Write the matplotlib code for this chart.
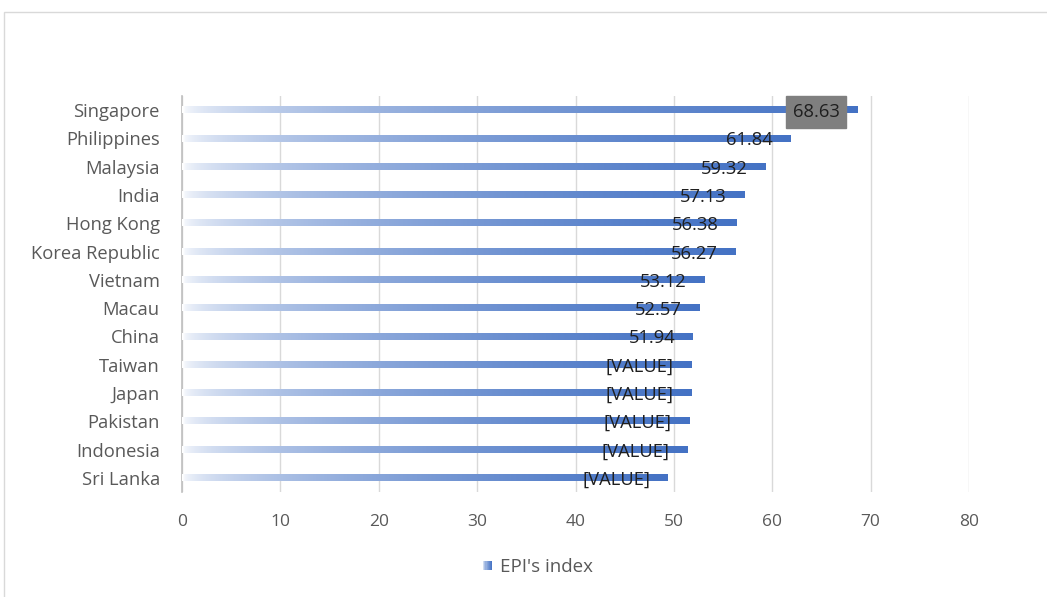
import matplotlib
matplotlib.use("Agg")
import matplotlib.pyplot as plt
import numpy as np
from matplotlib.patches import Rectangle
from matplotlib.legend_handler import HandlerBase

countries = ["Singapore", "Philippines", "Malaysia", "India", "Hong Kong",
             "Korea Republic", "Vietnam", "Macau", "China", "Taiwan", "Japan",
             "Pakistan", "Indonesia", "Sri Lanka"]
values = [68.63, 61.84, 59.32, 57.13, 56.38, 56.27, 53.12, 52.57, 51.94,
          51.8, 51.8, 51.6, 51.4, 49.4]
labels = ["68.63", "61.84", "59.32", "57.13", "56.38", "56.27", "53.12",
          "52.57", "51.94", "[VALUE]", "[VALUE]", "[VALUE]", "[VALUE]", "[VALUE]"]
xticks = [0, 10, 20, 30, 40, 50, 60, 70, 80]
series_name = "EPI's index"

plt.rcParams['font.family'] = ['Open Sans', 'DejaVu Sans']

BLUE = np.array([0x44, 0x72, 0xC4]) / 255.0
WHITE = np.array([1.0, 1.0, 1.0])

fig = plt.figure(figsize=(10.47, 5.97), dpi=100)
ax = fig.add_axes([182/1047, 1-492/597, (969-182)/1047, (492-96)/597])

n = len(countries)
ys = np.arange(n)[::-1]  # Singapore at top
bar_h = 0.22

grad_t = np.linspace(0, 1, 256) ** 0.5
grad = (WHITE[None, :] * (1 - grad_t[:, None]) + BLUE[None, :] * grad_t[:, None])
grad_img = grad[None, :, :]

for y, v in zip(ys, values):
    ax.imshow(grad_img, extent=(0, v, y - bar_h/2, y + bar_h/2),
              aspect='auto', interpolation='bilinear', zorder=3)

for i, (y, v, lab) in enumerate(zip(ys, values, labels)):
    kw = dict(ha='right', va='center', fontsize=13.2, color='#1F1F1F', zorder=5)
    if i == 0:
        kw['bbox'] = dict(boxstyle='square,pad=0.38', facecolor='#7F7F7F',
                          edgecolor='#7F7F7F')
    ax.text(v - 1.8, y - 0.07, lab, **kw)

ax.set_xlim(0, 80)
ax.set_ylim(-0.5, n - 0.5)
ax.set_xticks(xticks)
ax.set_yticks(ys)
ax.set_yticklabels(countries)
ax.xaxis.grid(True, color='#D9D9D9', linewidth=1.0, zorder=0)
ax.set_axisbelow(True)
for s in ['top', 'right', 'bottom']:
    ax.spines[s].set_visible(False)
ax.spines['left'].set_color('#BFBFBF')
ax.spines['left'].set_linewidth(1.2)
ax.tick_params(axis='x', length=0, colors='#595959', labelsize=12.5, pad=16)
ax.tick_params(axis='y', length=0, colors='#595959', labelsize=13.2, pad=16)


class GradHandler(HandlerBase):
    def create_artists(self, legend, orig_handle, xdescent, ydescent,
                       width, height, fontsize, trans):
        arts = []
        k = 8
        w = height * 0.7
        x0 = width - w
        for j in range(k):
            t = ((j + 0.5) / k) ** 0.5
            c = WHITE * (1 - t) + BLUE * t
            r = Rectangle((x0 - xdescent + j * w / k, -ydescent + (height - w) / 2),
                          w / k, w, facecolor=c, edgecolor='none', transform=trans)
            arts.append(r)
        return arts


h = Rectangle((0, 0), 1, 1)
leg = fig.legend([h], [series_name], handler_map={Rectangle: GradHandler()},
                 loc='center', bbox_to_anchor=(536/1047, 1-567/597),
                 frameon=False, fontsize=13.5, handlelength=0.7, handletextpad=0.4,
                 labelcolor='#595959')

frame = Rectangle((4/1047, -0.1), 2, 1 - 12/597 + 0.1, transform=fig.transFigure,
                  fill=False, edgecolor='#D9D9D9', linewidth=1.0)
fig.patches.append(frame)

fig.savefig("out.png", dpi=100, facecolor='white')
